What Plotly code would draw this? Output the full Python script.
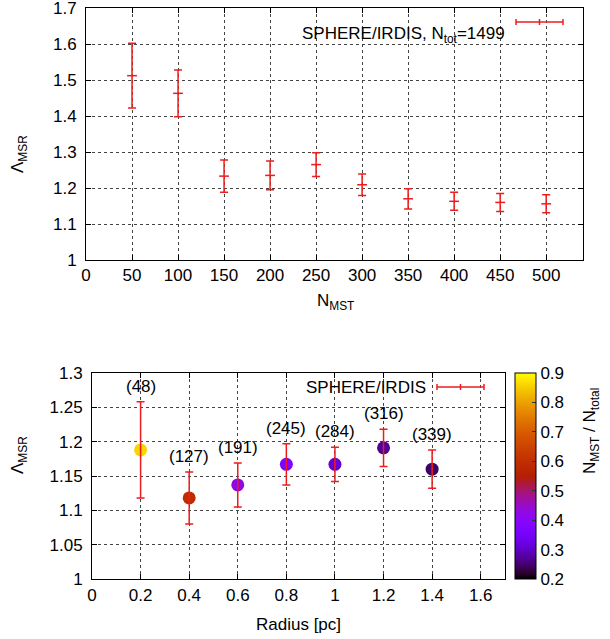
import math
import plotly.graph_objects as go

# top panel: Lambda_MSR vs N_MST
n_mst = [50, 100, 150, 200, 250, 300, 350, 400, 450, 500]
lam_top = [1.512, 1.463, 1.233, 1.235, 1.265, 1.209, 1.170, 1.163, 1.160, 1.156]
err_top = [0.090, 0.065, 0.045, 0.040, 0.033, 0.030, 0.028, 0.025, 0.025, 0.025]

# bottom panel: Lambda_MSR vs radius
radius = [0.2, 0.4, 0.6, 0.8, 1.0, 1.2, 1.4]
lam_bot = [1.188, 1.118, 1.137, 1.167, 1.167, 1.191, 1.160]
err_bot = [0.070, 0.038, 0.032, 0.030, 0.025, 0.027, 0.028]
frac = [0.86, 0.59, 0.43, 0.37, 0.31, 0.27, 0.245]
n_labels = ['(48)', '(127)', '(191)', '(245)', '(284)', '(316)', '(339)']

W, H = 610, 639
RED = '#ee1c1c'
FONT = 'Liberation Sans, Arial, sans-serif'
FS = 17

# gnuplot default palette (rgbformulae 7,5,15)
cscale = []
for i in range(41):
    t = i / 40
    r = math.sqrt(t)
    g = t ** 3
    b = max(0.0, math.sin(2 * math.pi * t))
    cscale.append([t, 'rgb(%d,%d,%d)' % (round(255 * r), round(255 * g), round(255 * b))])

def px_x(p):
    return p / W

def px_y(p):
    return 1 - p / H

txt = dict(size=FS, family=FONT, color='black')

fig = go.Figure()

# top panel
fig.add_trace(go.Scatter(x=n_mst, y=lam_top, mode='markers', xaxis='x', yaxis='y',
    marker=dict(symbol='line-ew', size=7, line=dict(color=RED, width=1.5)),
    error_y=dict(type='data', array=err_top, color=RED, thickness=1.5, width=4),
    showlegend=False))

# bottom panel: coloured points, then bars on top
fig.add_trace(go.Scatter(x=radius, y=lam_bot, mode='markers', xaxis='x2', yaxis='y2',
    marker=dict(size=13, color=frac, colorscale=cscale, cmin=0.2, cmax=0.9,
                colorbar=dict(x=px_x(515), xanchor='left', thickness=21, thicknessmode='pixels',
                              len=(579 - 373) / H, lenmode='fraction', y=px_y(476), yanchor='middle',
                              outlinewidth=1, outlinecolor='black', ticks='inside', ticklen=4,
                              tickcolor='#333', tickvals=[0.2, 0.3, 0.4, 0.5, 0.6, 0.7, 0.8, 0.9],
                              xpad=0, ypad=0, tickfont=txt)),
    showlegend=False))
fig.add_trace(go.Scatter(x=radius, y=lam_bot, mode='markers', xaxis='x2', yaxis='y2',
    marker=dict(symbol='line-ew', size=1, line=dict(color=RED, width=1)),
    error_y=dict(type='data', array=err_bot, color=RED, thickness=1.5, width=4),
    showlegend=False))

annotations = []
for xv, yv, ev, lab in zip(radius, lam_bot, err_bot, n_labels):
    annotations.append(dict(x=xv, y=yv + ev, xref='x2', yref='y2', text=lab, showarrow=False,
        yanchor='bottom', yshift=4, font=txt))

# axis titles and legends
annotations += [
    dict(x=px_x(6), y=px_y(133), xref='paper', yref='paper', text='Λ<sub>MSR</sub>', textangle=-90,
         showarrow=False, font=txt),
    dict(x=px_x(6), y=px_y(476), xref='paper', yref='paper', text='Λ<sub>MSR</sub>', textangle=-90,
         showarrow=False, font=txt),
    dict(x=px_x(335), y=px_y(302), xref='paper', yref='paper', text='N<sub>MST</sub>',
         showarrow=False, font=txt),
    dict(x=px_x(298), y=px_y(636), xref='paper', yref='paper', text='Radius [pc]',
         showarrow=False, font=txt),
    dict(x=px_x(604), y=px_y(476), xref='paper', yref='paper', text='N<sub>MST</sub> / N<sub>total</sub>',
         textangle=-90, showarrow=False, font=txt),
    dict(x=px_x(507), y=px_y(22), xref='paper', yref='paper', xanchor='right',
         text='SPHERE/IRDIS, N<sub>tot</sub>=1499', showarrow=False, font=txt),
    dict(x=px_x(428), y=px_y(387), xref='paper', yref='paper', xanchor='right',
         text='SPHERE/IRDIS', showarrow=False, font=txt),
]

shapes = []
for x0, x1, yy in [(516, 563, 22), (437, 484, 387)]:
    ln = dict(color=RED, width=1.5)
    shapes.append(dict(type='line', xref='paper', yref='paper', x0=px_x(x0), x1=px_x(x1),
                       y0=px_y(yy), y1=px_y(yy), line=ln))
    for xx in (x0, (x0 + x1) / 2, x1):
        shapes.append(dict(type='line', xref='paper', yref='paper', x0=px_x(xx), x1=px_x(xx),
                           y0=px_y(yy - 3), y1=px_y(yy + 3), line=ln))

axis_common = dict(showline=True, linecolor='black', linewidth=1, mirror='ticks', ticks='inside',
                   ticklen=5, tickcolor='black', showgrid=True, gridcolor='#444', griddash='dot',
                   gridwidth=1, zeroline=False, tickfont=txt, automargin=False,
                   ticklabeloverflow='allow')

fig.update_layout(
    width=W, height=H, margin=dict(l=0, r=0, t=0, b=0, autoexpand=False),
    paper_bgcolor='white', plot_bgcolor='white', showlegend=False,
    xaxis=dict(domain=[px_x(86), px_x(583)], range=[0, 540], dtick=50, tick0=0, anchor='y',
               ticklabelstandoff=0, **axis_common),
    yaxis=dict(domain=[px_y(260), px_y(8)], range=[1, 1.7], dtick=0.1, tick0=1, anchor='x',
               ticklabelstandoff=5, **axis_common),
    xaxis2=dict(domain=[px_x(92), px_x(505)], range=[0, 1.7], dtick=0.2, tick0=0, anchor='y2',
                ticklabelstandoff=1, **axis_common),
    yaxis2=dict(domain=[px_y(579), px_y(373)], range=[1, 1.3], dtick=0.05, tick0=1, anchor='x2',
                ticklabelstandoff=5, **axis_common),
    annotations=annotations, shapes=shapes,
)

# drop the page's default body margin so the figure sits at the window corner
fig.write_html("out.html", config={'displayModeBar': False},
               post_script="document.body.style.margin='0';")
